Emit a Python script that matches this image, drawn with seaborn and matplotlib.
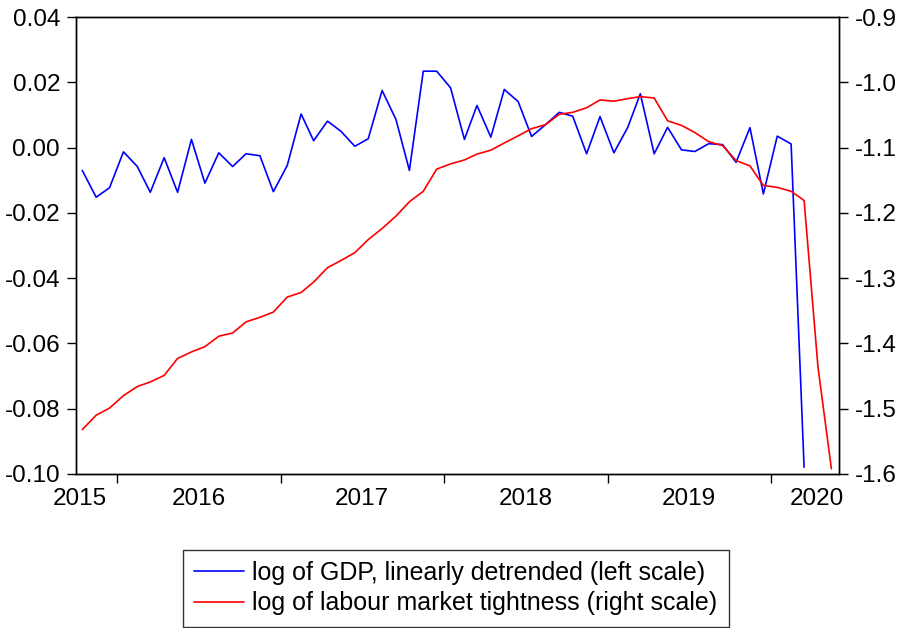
"""
GDP detrended vs labour market tightness, dual axis (EViews-style chart)
"""
import matplotlib
matplotlib.use("Agg")
import matplotlib.pyplot as plt
import matplotlib.dates as mdates
import seaborn as sns
import pandas as pd
from matplotlib.ticker import FixedLocator, NullFormatter

# ---- data (monthly, Oct 2015 onward) ----
gdp_detrended = [
    -0.0070, -0.0152, -0.0123, -0.0013, -0.0058, -0.0137, -0.0031, -0.0137, 0.0025, -0.0109,
    -0.0016, -0.0058, -0.0019, -0.0025, -0.0135, -0.0055, 0.0103, 0.0021, 0.0081, 0.0050,
    0.0004, 0.0027, 0.0175, 0.0086, -0.0070, 0.0234, 0.0234, 0.0183, 0.0025, 0.0129,
    0.0032, 0.0178, 0.0141, 0.0034, 0.0070, 0.0108, 0.0096, -0.0019, 0.0095, -0.0016,
    0.0062, 0.0165, -0.0019, 0.0062, -0.0007, -0.0012, 0.0012, 0.0009, -0.0045, 0.0061,
    -0.0142, 0.0035, 0.0011, -0.0979,
]
tightness = [
    -1.532, -1.510, -1.499, -1.480, -1.466, -1.459, -1.449, -1.423, -1.413, -1.405,
    -1.389, -1.384, -1.367, -1.360, -1.352, -1.329, -1.322, -1.306, -1.284, -1.273,
    -1.261, -1.241, -1.224, -1.205, -1.183, -1.167, -1.133, -1.125, -1.119, -1.110,
    -1.104, -1.093, -1.082, -1.071, -1.065, -1.049, -1.046, -1.039, -1.027, -1.029,
    -1.025, -1.022, -1.024, -1.059, -1.066, -1.077, -1.091, -1.097, -1.120, -1.128,
    -1.158, -1.161, -1.167, -1.181, -1.436, -1.592,
]
months = pd.date_range("2015-10-01", periods=len(tightness), freq="MS") + pd.Timedelta(days=14)

year_labels = ["2015", "2016", "2017", "2018", "2019", "2020"]
year_label_pos = ["2015-10-09", "2016-07-01", "2017-07-01", "2018-07-01", "2019-07-01", "2020-04-13"]
year_bounds = ["2016-01-01", "2017-01-01", "2018-01-01", "2019-01-01", "2020-01-01"]

gdp_df = pd.DataFrame({"date": months[:len(gdp_detrended)], "value": gdp_detrended})
tight_df = pd.DataFrame({"date": months, "value": tightness})

sns.set_style("white")
plt.rcParams["font.family"] = ["Liberation Sans", "DejaVu Sans"]
plt.rcParams["axes.unicode_minus"] = False
plt.rcParams["text.color"] = "black"
plt.rcParams["xtick.color"] = "black"
plt.rcParams["ytick.color"] = "black"

fig = plt.figure(figsize=(8.98, 6.28), dpi=100)
ax = fig.add_axes([76 / 898, 1 - 474 / 628, (839 - 76) / 898, (474 - 17) / 628])
ax2 = ax.twinx()

sns.lineplot(data=gdp_df, x="date", y="value", ax=ax, color="#0000ff", linewidth=1.2,
             label="log of GDP, linearly detrended (left scale)", legend=False)
sns.lineplot(data=tight_df, x="date", y="value", ax=ax2, color="#ff0000", linewidth=1.2,
             label="log of labour market tightness (right scale)", legend=False)

ax.set_xlim(pd.Timestamp("2015-10-01"), pd.Timestamp("2020-06-01"))
ax.set_ylim(-0.10, 0.04)
ax2.set_ylim(-1.6, -0.9)
ax.set_yticks([-0.10, -0.08, -0.06, -0.04, -0.02, 0.00, 0.02, 0.04])
ax.set_yticklabels([f"{v:.2f}" for v in ax.get_yticks()])
ax2.set_yticks([-1.6, -1.5, -1.4, -1.3, -1.2, -1.1, -1.0, -0.9])
ax2.set_yticklabels([f"{v:.1f}" for v in ax2.get_yticks()])

# year boundaries as tick marks, year names between them
ax.xaxis.set_major_locator(FixedLocator([mdates.date2num(pd.Timestamp(d)) for d in year_bounds]))
ax.xaxis.set_major_formatter(NullFormatter())
ax.xaxis.set_minor_locator(FixedLocator([mdates.date2num(pd.Timestamp(d)) for d in year_label_pos]))
ax.set_xticklabels(year_labels, minor=True)

ax.set_xlabel("")
ax.set_ylabel("")
ax2.set_ylabel("")

for a in (ax, ax2):
    for s in a.spines.values():
        s.set_visible(True)
        s.set_color("black")
        s.set_linewidth(1.0)
# sizes in points (1 pt = 1.39 px here)
ax.tick_params(axis="y", which="major", direction="out", length=6.5, width=1.0, pad=5,
               labelsize=17.5, left=True)
ax2.tick_params(axis="y", which="major", direction="out", length=6.5, width=1.0, pad=5,
                labelsize=17.5, right=True)
ax.tick_params(axis="x", which="major", direction="out", length=6.5, width=1.0, bottom=True)
ax.tick_params(axis="x", which="minor", length=0, pad=10, labelsize=17.5, bottom=True)

h1, l1 = ax.get_legend_handles_labels()
h2, l2 = ax2.get_legend_handles_labels()
leg = fig.legend(h1 + h2, l1 + l2, loc="lower center", bbox_to_anchor=(456 / 898, 1.5 / 628),
                 fontsize=18, frameon=True, fancybox=False, edgecolor="black",
                 handlelength=2.0, handletextpad=0.32, borderpad=0.45, labelspacing=0.25,
                 borderaxespad=0)
leg.get_frame().set_linewidth(1.0)

fig.savefig("out.png", dpi=100)
